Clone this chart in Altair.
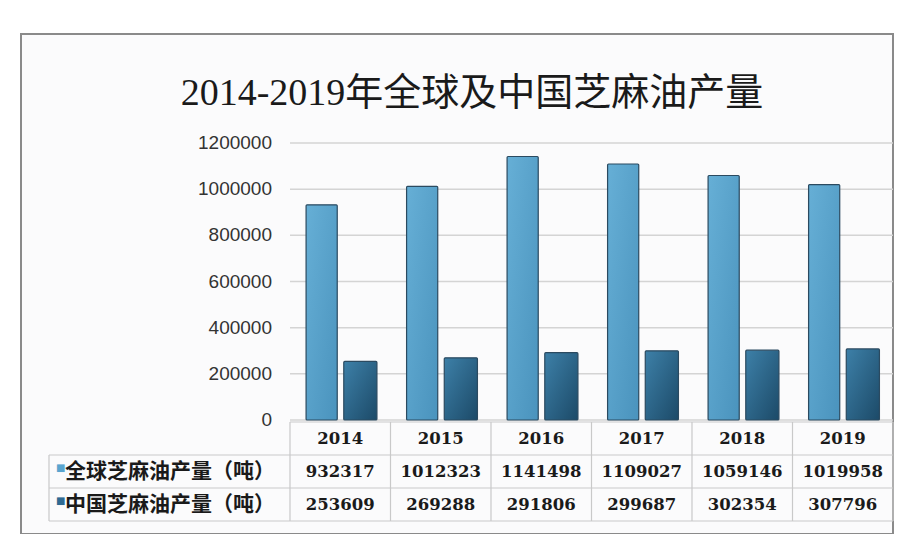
import altair as alt
import pandas as pd

# ---- data ----
years = ["2014", "2015", "2016", "2017", "2018", "2019"]
global_output = [932317, 1012323, 1141498, 1109027, 1059146, 1019958]
china_output = [253609, 269288, 291806, 299687, 302354, 307796]
series_names = ["全球芝麻油产量（吨）", "中国芝麻油产量（吨）"]
y_ticks = [0, 200000, 400000, 600000, 800000, 1000000, 1200000]
title_text = "2014-2019年全球及中国芝麻油产量"

# ---- layout (scale configuration) ----
W, H = 872, 500
PX_PER_COL = 100.5
TABLE_X0_PX = 269          # table (value columns) start from view left
LABEL_COL_PX = 28          # label column start from view left
X_DOMAIN = [-TABLE_X0_PX / PX_PER_COL, (W - TABLE_X0_PX) / PX_PER_COL]
LABEL_X = -(TABLE_X0_PX - LABEL_COL_PX) / PX_PER_COL

ZERO_PX, TOP_PX = 386, 109  # pixel of 0 and of 1,200,000 from view top
vpp = 1200000 / (ZERO_PX - TOP_PX)
V_DOMAIN = [-(H - ZERO_PX) * vpp, 1200000 + TOP_PX * vpp]

ROW_PX, ROW_TOP_PX = 33, 388
R_DOMAIN = [-ROW_TOP_PX / ROW_PX, (H - ROW_TOP_PX) / ROW_PX]

xs = alt.Scale(domain=X_DOMAIN, nice=False, zero=False)
vs = alt.Scale(domain=V_DOMAIN, nice=False, zero=False)
rs = alt.Scale(domain=R_DOMAIN, nice=False, zero=False, reverse=True)

n = len(years)
bars_df = pd.DataFrame({
    "year": years * 2,
    "idx": list(range(n)) * 2,
    "value": global_output + china_output,
    "series": [series_names[0]] * n + [series_names[1]] * n,
    "s": [0] * n + [1] * n,
})

grad_global = alt.Gradient(gradient="linear", x1=0, y1=0, x2=1, y2=1,
                           stops=[alt.GradientStop(color="#66afd6", offset=0),
                                  alt.GradientStop(color="#4a93bd", offset=1)])
grad_china = alt.Gradient(gradient="linear", x1=0, y1=0, x2=1, y2=1,
                          stops=[alt.GradientStop(color="#3d80a8", offset=0),
                                 alt.GradientStop(color="#1c4a68", offset=1)])

base_bars = alt.Chart(bars_df)

def bar_layer(sidx, grad, lo, hi):
    return base_bars.transform_filter(alt.datum.s == sidx).transform_calculate(
        x0=f"datum.idx + {lo}", x1=f"datum.idx + {hi}"
    ).mark_bar(fill=grad, stroke="#2b4a60", strokeWidth=1.2, cornerRadius=1).encode(
        x=alt.X("x0:Q", scale=xs, axis=None),
        x2="x1:Q",
        y=alt.Y("value:Q", scale=vs, axis=None),
        y2=alt.datum(0),
    )

tick_df = pd.DataFrame({"v": y_ticks, "x0": [0] * len(y_ticks), "x1": [n] * len(y_ticks)})
grid = alt.Chart(tick_df).mark_rule(color="#d4d4d4", strokeWidth=1.5).encode(
    x=alt.X("x0:Q", scale=xs, axis=None), x2="x1:Q",
    y=alt.Y("v:Q", scale=vs, axis=None),
)
ylabels = alt.Chart(tick_df).mark_text(
    align="right", baseline="middle", dx=-18, fontSize=19,
    font="Liberation Sans", color="#333333"
).encode(
    x=alt.X("x0:Q", scale=xs, axis=None),
    y=alt.Y("v:Q", scale=vs, axis=None),
    text=alt.Text("v:Q", format="d"),
)

value_group = alt.layer(grid, bar_layer(0, grad_global, 0.16, 0.47),
                        bar_layer(1, grad_china, 0.535, 0.865), ylabels)

# ---- table ----
hl_df = pd.DataFrame({
    "r": [0, 1, 2, 3],
    "xa": [0, LABEL_X, LABEL_X, LABEL_X],
    "xb": [n] * 4,
})
hlines = alt.Chart(hl_df).mark_rule(color="#c9c9c9", strokeWidth=1.2).encode(
    x=alt.X("xa:Q", scale=xs, axis=None), x2="xb:Q",
    y=alt.Y("r:Q", scale=rs, axis=None),
)
vl_df = pd.DataFrame({
    "c": [LABEL_X] + list(range(n + 1)),
    "ra": [1] + [0] * (n + 1),
    "rb": [3] * (n + 2),
})
vlines = alt.Chart(vl_df).mark_rule(color="#c9c9c9", strokeWidth=1.2).encode(
    x=alt.X("c:Q", scale=xs, axis=None),
    y=alt.Y("ra:Q", scale=rs, axis=None), y2="rb:Q",
)

cell_df = pd.DataFrame({
    "idx": list(range(n)) * 3,
    "row": [0] * n + [1] * n + [2] * n,
    "txt": years + [str(v) for v in global_output] + [str(v) for v in china_output],
})
cells = alt.Chart(cell_df).transform_calculate(
    xc="datum.idx + 0.5", yc="datum.row + 0.5"
).mark_text(fontSize=16.5, font="DejaVu Serif", fontWeight="bold", color="#1a1a1a",
            baseline="middle").encode(
    x=alt.X("xc:Q", scale=xs, axis=None),
    y=alt.Y("yc:Q", scale=rs, axis=None),
    text="txt:N",
)

lab_df = pd.DataFrame({"name": series_names, "row": [1, 2], "lx": [LABEL_X, LABEL_X]})
row_labels = alt.Chart(lab_df).transform_calculate(yc="datum.row + 0.5").mark_text(
    align="left", baseline="middle", dx=16, fontSize=21, font="Noto Sans CJK SC",
    fontWeight="bold", color="#1a1a1a"
).encode(
    x=alt.X("lx:Q", scale=xs, axis=None),
    y=alt.Y("yc:Q", scale=rs, axis=None),
    text="name:N",
)
markers = alt.Chart(lab_df).transform_calculate(yc="datum.row + 0.4").mark_text(
    align="left", baseline="middle", dx=7, fontSize=10, font="DejaVu Sans", text="■"
).encode(
    x=alt.X("lx:Q", scale=xs, axis=None),
    y=alt.Y("yc:Q", scale=rs, axis=None),
    color=alt.Color("name:N", scale=alt.Scale(domain=series_names,
                                              range=["#5aa5cf", "#2f6a92"]), legend=None),
)

table_group = alt.layer(hlines, vlines, cells, row_labels, markers)

chart = alt.layer(value_group, table_group).resolve_scale(y="independent").properties(
    width=W, height=H,
    title=alt.TitleParams(title_text, fontSize=38, font="Liberation Serif, Noto Sans CJK SC",
                          fontWeight="normal", color="#1a1a1a", anchor="middle",
                          baseline="alphabetic", offset=-109, dx=15),
    padding={"left": 13, "top": 26, "right": 0, "bottom": 0},
    background="white",
).configure_view(stroke="#8a8a8a", strokeWidth=2, fill="#fbfbfc")

chart.save("out.html", embed_options={"renderer": "svg", "actions": False})
